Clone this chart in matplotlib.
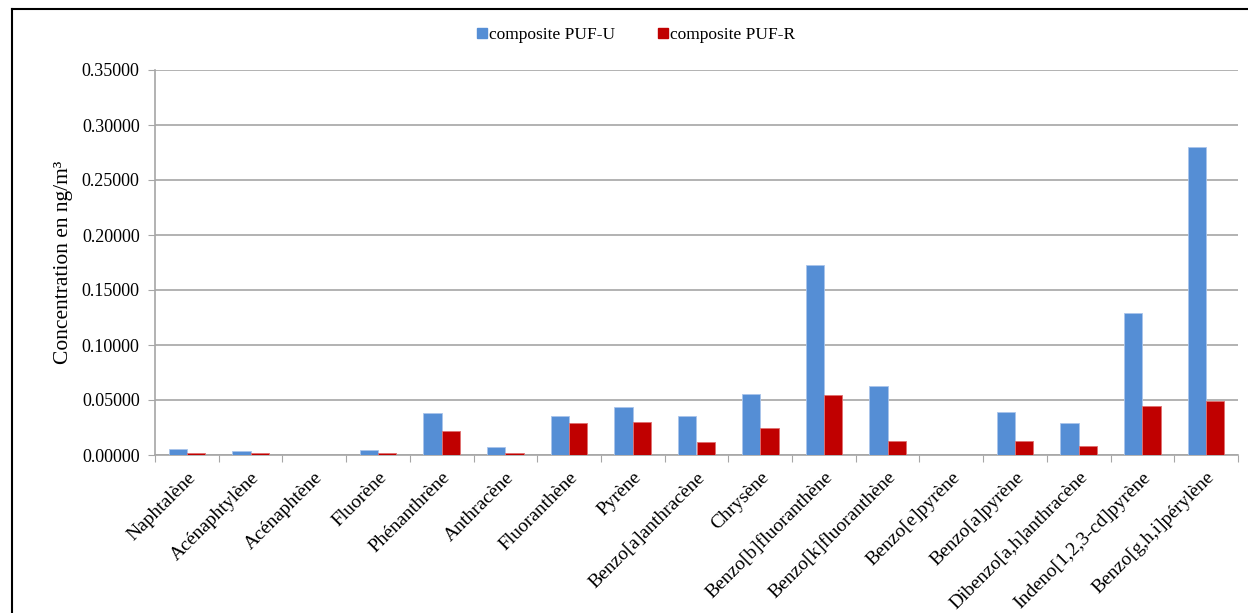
import numpy as np
import matplotlib
matplotlib.use("Agg")
import matplotlib.pyplot as plt
from matplotlib.lines import Line2D

# ---------------------------------
# Data
# ---------------------------------

compounds = ["Naphtalène", "Acénaphtylène", "Acénaphtène", "Fluorène", "Phénanthrène",
             "Anthracène", "Fluoranthène", "Pyrène", "Benzo[a]anthracène", "Chrysène",
             "Benzo[b]fluoranthène", "Benzo[k]fluoranthène", "Benzo[e]pyrène",
             "Benzo[a]pyrène", "Dibenzo[a,h]anthracène", "Indeno[1,2,3-cd]pyrène",
             "Benzo[g,h,i]pérylène"]

puf_u = [0.0058, 0.0039, 0.0003, 0.0045, 0.0379, 0.0070, 0.0352, 0.0433, 0.0352,
         0.0555, 0.1725, 0.0630, 0.0, 0.0394, 0.0290, 0.1290, 0.2800]
puf_r = [0.0015, 0.0015, 0.0003, 0.0015, 0.0215, 0.0015, 0.0288, 0.0300, 0.0115,
         0.0242, 0.0548, 0.0130, 0.0, 0.0124, 0.0085, 0.0442, 0.0488]

series_names = ["composite PUF-U", "composite PUF-R"]
yticks = [0.0, 0.05, 0.10, 0.15, 0.20, 0.25, 0.30, 0.35]

# ---------------------------------
# Figure
# ---------------------------------

plt.rcParams["font.family"] = ["Liberation Serif", "DejaVu Serif"]

fig = plt.figure(figsize=(12.48, 6.13), dpi=100)
W, H = 1248, 613
ax = fig.add_axes([155 / W, 1 - 455 / H, (1238 - 155) / W, (455 - 70) / H])

x = np.arange(len(compounds))
bw = 0.288
blue = "#558ED5"
red = "#C00000"
ax.bar(x - bw / 2, puf_u, bw, color=blue, edgecolor="#A9C4EB", linewidth=0.6, zorder=3)
ax.bar(x + bw / 2, puf_r, bw, color=red, edgecolor="#E07070", linewidth=0.6, zorder=3)

ax.set_xlim(-0.5, len(compounds) - 0.5)
ax.set_ylim(0, 0.35)
ax.set_yticks(yticks)
ax.set_yticklabels([f"{v:.5f}" for v in yticks], fontsize=13)
ax.yaxis.grid(True, color="#A6A6A6", linewidth=1.2, zorder=0)

# category ticks between groups
ax.set_xticks(np.arange(-0.5, len(compounds), 1.0))
ax.set_xticklabels([])
ax.set_xticks(x, minor=True)
ax.set_xticklabels(compounds, minor=True, rotation=45, ha="right",
                   rotation_mode="anchor", fontsize=14)
ax.tick_params(axis="x", which="minor", length=0, pad=10)
ax.tick_params(axis="x", which="major", length=5, color="#A6A6A6")
ax.tick_params(axis="y", length=5, color="#A6A6A6", pad=6)

for side in ["top", "right"]:
    ax.spines[side].set_visible(False)
for side in ["left", "bottom"]:
    ax.spines[side].set_color("#A6A6A6")
    ax.spines[side].set_linewidth(1.2)

ax.set_ylabel("Concentration en ng/m³", fontsize=15.5, labelpad=6)

handles = [Line2D([], [], marker="s", linestyle="", color=blue, markersize=6.5),
           Line2D([], [], marker="s", linestyle="", color=red, markersize=6.5)]
fig.legend(handles, series_names, loc="center", bbox_to_anchor=(636 / W, 1 - 35 / H),
           ncol=2, frameon=False, fontsize=12.5, handletextpad=0.1, columnspacing=2.5,
           handlelength=0.6)

# outer frame (top and left edges)
fig.add_artist(Line2D([12 / W, 1], [1 - 9 / H, 1 - 9 / H], color="black", linewidth=1.5))
fig.add_artist(Line2D([12 / W, 12 / W], [0, 1 - 9 / H], color="black", linewidth=1.5))

fig.savefig("out.png", dpi=100)
